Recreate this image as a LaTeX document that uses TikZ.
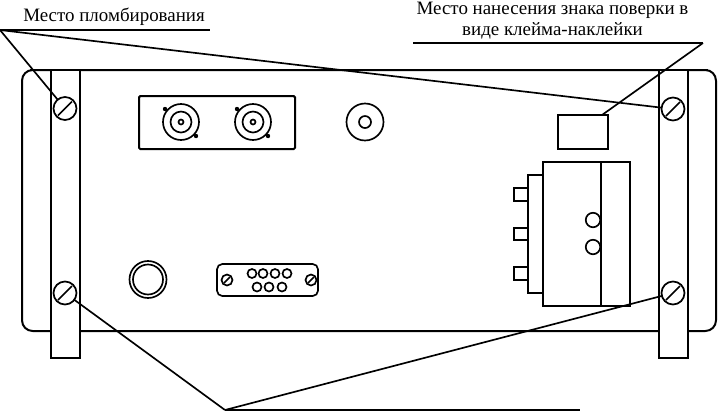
\documentclass[tikz,border=0pt]{standalone}
\usepackage{fontspec}
\setmainfont{Liberation Serif}
\usetikzlibrary{calc}
\tikzset{
 x=0.75pt,y=-0.75pt,
 heavy/.style={draw=black,line width=1.5pt},
 thin line/.style={draw=black,line width=1.25pt},
 plate/.style={heavy,fill=white,rectangle,inner sep=0pt,outer sep=0pt},
 ring/.style={draw=black,line width=1.25pt,circle,inner sep=0pt,outer sep=0pt,minimum size=#1*0.75pt},
 screw/.style={draw=black,line width=1.3pt,circle,inner sep=0pt,outer sep=0pt,minimum size=23*0.75pt},
 label text/.style={font=\fontsize{14.2pt}{15.5pt}\selectfont,align=center,inner sep=0pt},
}
\newcommand{\slot}[2]{\draw[line width=1.25pt] ($(#1)+(-#2,#2)$) -- ($(#1)+(#2,-#2)$);}
\begin{document}
\begin{tikzpicture}
\useasboundingbox (0,0) rectangle (718,412);
% panel
\draw[heavy,rounded corners=8pt] (22,70) rectangle (716,331);
\node[plate,minimum width=29*0.75pt,minimum height=288*0.75pt] (railL) at (65.5,214) {};
\node[plate,minimum width=29*0.75pt,minimum height=288*0.75pt] (railR) at (673.5,214) {};
\draw[heavy] (30,70) -- (708,70);
% screws
\node[screw] (sTL) at (65,108.5) {}; \slot{sTL}{7}
\node[screw] (sTR) at (673,109) {}; \slot{sTR}{7}
\node[screw] (sBL) at (65,293) {}; \slot{sBL}{7}
\node[screw] (sBR) at (673,293) {}; \slot{sBR}{7}
% BNC panel
\node[plate,minimum width=156*0.75pt,minimum height=53*0.75pt,rounded corners=1pt] (bnc) at (217,122.5) {};
\foreach \n/\cx in {a/181,b/253}{
 \node[ring=36] (\n o) at (\cx,122) {};
 \node[ring=21] (\n m) at (\cx,122) {};
 \node[ring=5] (\n c) at (\cx,122) {};
 \fill ($(\n o)+(-16,-13)$) circle (2.2);
 \fill ($(\n o)+(15,14)$) circle (2.2);
}
% right connector
\node[ring=37] (conn) at (365,122) {};
\node[ring=12] (connc) at (365,122) {};
% knob
\node[ring=37] (knob) at (148,279.5) {};
\node[ring=30] (knobi) at (148,279.5) {};
% D-sub
\node[draw=black,line width=1.25pt,rectangle,rounded corners=4pt,minimum width=101*0.75pt,minimum height=32*0.75pt,inner sep=0pt] (dsub) at (267.5,280) {};
\node[ring=11] (d1) at (227,280) {}; \slot{d1}{3}
\node[ring=11] (d2) at (311,280) {}; \slot{d2}{3}
\foreach \i/\px/\py in {1/252/273.5,2/263/273.5,3/275/273.5,4/287/273.5,5/257/287,6/269/287,7/282/287}{
 \node[ring=9] (p\i) at (\px,\py) {};
}
% sticker
\node[plate,minimum width=50*0.75pt,minimum height=34*0.75pt] (sticker) at (583,132) {};
% block
\node[plate,minimum width=14*0.75pt,minimum height=13*0.75pt] (t1) at (521,194.5) {};
\node[plate,minimum width=14*0.75pt,minimum height=12*0.75pt] (t2) at (521,234) {};
\node[plate,minimum width=14*0.75pt,minimum height=13*0.75pt] (t3) at (521,273.5) {};
\node[plate,minimum width=15*0.75pt,minimum height=118*0.75pt] (step) at (535.5,234) {};
\node[plate,minimum width=87*0.75pt,minimum height=144*0.75pt] (block) at (586.5,234) {};
\node[ring=14.5,fill=white] (h1) at (593,220) {};
\node[ring=14.5,fill=white] (h2) at (593,247) {};
\draw[heavy] (601,162) -- (601,306);
% labels
\node[label text,anchor=base west] (lab1) at (23,21) {Место пломбирования};
\node[label text,anchor=base] (lab2) at (552.5,35) {Место нанесения знака поверки в\\виде клейма-наклейки};
% leaders
\coordinate (c1) at (0,30);
\coordinate (c1e) at (210,30);
\coordinate (c2) at (413,43);
\coordinate (c2e) at (703,43);
\coordinate (c3) at (225,410);
\coordinate (c3e) at (580,410);
\coordinate (c4) at (602,115);
\draw[heavy] (c1) -- (c1e);
\draw[thin line] (c1) -- (sTL);
\draw[thin line] (c1) -- (sTR);
\draw[heavy] (c2) -- (c2e);
\draw[thin line] (c2e) -- (c4);
\draw[heavy] (c3) -- (c3e);
\draw[thin line] (c3) -- (sBL);
\draw[thin line] (c3) -- (sBR);
\end{tikzpicture}
\end{document}
